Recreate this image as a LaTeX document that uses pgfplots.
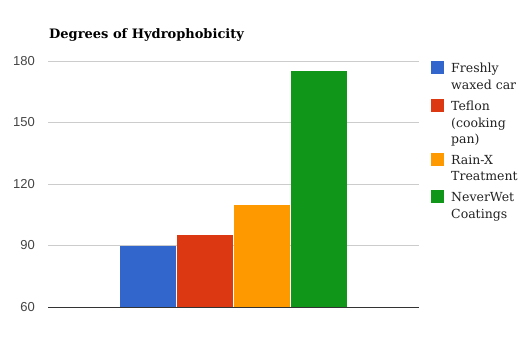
\documentclass[border=0pt]{standalone}
\usepackage{pgfplots}
\pgfplotsset{compat=1.18}
\usepackage{fontspec}
\setmainfont{DejaVu Serif}
\newfontfamily\tickfont{Liberation Sans}
\definecolor{gblue}{HTML}{3366CC}
\definecolor{gred}{HTML}{DC3912}
\definecolor{gorange}{HTML}{FF9900}
\definecolor{ggreen}{HTML}{109618}
\definecolor{gridc}{HTML}{CCCCCC}
\definecolor{basec}{HTML}{333333}
\definecolor{tickc}{HTML}{444444}
\definecolor{legc}{HTML}{222222}
\begin{document}
\begin{tikzpicture}[x=1pt,y=1pt]
\useasboundingbox (0,0) rectangle (528,346);
\begin{axis}[
  at={(48pt,39pt)}, anchor=south west,
  scale only axis, width=371pt, height=246pt,
  ymin=60, ymax=180, ytick={60,90,120,150,180},
  xmin=-1, xmax=1, xtick=\empty,
  ybar=1pt, bar width=56pt,
  axis line style={draw=none},
  major tick length=0pt,
  ymajorgrids, grid style={color=gridc, line width=1pt},
  extra y ticks={60}, extra y tick labels={},
  extra y tick style={grid style={color=basec, line width=1pt}},
  /pgf/number format/assume math mode=true,
  yticklabel style={font=\tickfont\fontsize{13}{15}\selectfont, text=tickc, anchor=east, inner sep=0pt, xshift=-13pt},
  title={Degrees of Hydrophobicity},
  title style={at={(rel axis cs:0,1)}, anchor=base west, yshift=16.5pt, xshift=1pt, font=\bfseries\fontsize{13}{15}\selectfont, inner sep=0pt},
  legend image code/.code={\fill[#1] (0pt,-13pt) rectangle (13pt,0pt);},
  legend style={draw=none, fill=none, at={(rel axis cs:1,1)}, anchor=north west, xshift=12pt, inner sep=0pt,
    row sep=6pt, column sep=5pt, font=\fontsize{12.5}{16.5}\selectfont, text=legc,
    cells={anchor=north west, align=left, inner sep=0pt}},
]
\addplot[fill=gblue, draw=none] coordinates {(0,90)};
\addplot[fill=gred, draw=none] coordinates {(0,95)};
\addplot[fill=gorange, draw=none] coordinates {(0,110)};
\addplot[fill=ggreen, draw=none] coordinates {(0,175)};
\legend{Freshly\\waxed car, Teflon\\(cooking\\pan), Rain-X\\Treatment, NeverWet\\Coatings}
\end{axis}
\end{tikzpicture}
\end{document}
